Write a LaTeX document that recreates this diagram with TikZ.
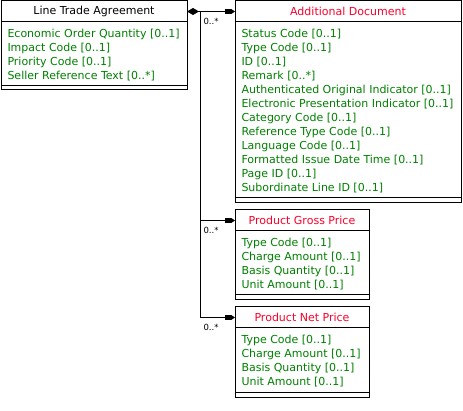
\documentclass[tikz,border=0pt]{standalone}
\usepackage{fontspec}
\setmainfont{DejaVu Sans}
\usetikzlibrary{calc,positioning,arrows.meta}
\definecolor{attrgreen}{RGB}{0,128,0}
\definecolor{titlered}{RGB}{250,0,40}

\begin{document}
\begin{tikzpicture}[x=1pt, y=1pt, line width=1pt, outer sep=0pt,
  frame/.style={draw, inner sep=0pt, anchor=north west},
  ttl/.style={draw, inner sep=0pt, minimum height=21pt, anchor=north, text=titlered, font=\fontsize{11}{14}\selectfont},
  foot/.style={draw, inner sep=0pt, minimum height=5pt, anchor=south},
  attr/.style={anchor=west, inner xsep=6.5pt, inner ysep=0pt, yshift=-1pt, align=left, text=attrgreen, font=\fontsize{11}{14}\selectfont},
  mult/.style={anchor=north west, inner sep=0pt, xshift=3.5pt, yshift=-7pt, font=\fontsize{8.5}{8.5}\selectfont},
  umlhead/.tip={Square[length=6pt,width=5pt]Triangle[length=4pt,width=5pt]},
  link/.style={-umlhead}]
\useasboundingbox (0,0) rectangle (463,-411);

% Line Trade Agreement
\node[frame, minimum width=186pt, minimum height=89pt] (lta) at (1,-1) {};
\node[ttl, minimum width=186pt, text=black] (ltaT) at (lta.north) {Line Trade Agreement};
\node[foot, minimum width=186pt, minimum height=4pt] (ltaF) at (lta.south) {};
\node[attr] (ltaA) at ($(ltaT.south west)!.5!(ltaF.north west)$) {Economic Order Quantity [0..1]\\Impact Code [0..1]\\Priority Code [0..1]\\Seller Reference Text [0..*]};

% Additional Document
\node[frame, minimum width=226pt, minimum height=202pt] (ad) at (235,-1) {};
\node[ttl, minimum width=226pt] (adT) at (ad.north) {Additional Document};
\node[foot, minimum width=226pt] (adF) at (ad.south) {};
\node[attr] (adA) at ($(adT.south west)!.5!(adF.north west)$) {Status Code [0..1]\\Type Code [0..1]\\ID [0..1]\\Remark [0..*]\\Authenticated Original Indicator [0..1]\\Electronic Presentation Indicator [0..1]\\Category Code [0..1]\\Reference Type Code [0..1]\\Language Code [0..1]\\Formatted Issue Date Time [0..1]\\Page ID [0..1]\\Subordinate Line ID [0..1]};

% Product Gross Price
\node[frame, minimum width=134pt, minimum height=90pt] (pgp) at (235,-210) {};
\node[ttl, minimum width=134pt] (pgpT) at (pgp.north) {Product Gross Price};
\node[foot, minimum width=134pt] (pgpF) at (pgp.south) {};
\node[attr] (pgpA) at ($(pgpT.south west)!.5!(pgpF.north west)$) {Type Code [0..1]\\Charge Amount [0..1]\\Basis Quantity [0..1]\\Unit Amount [0..1]};

% Product Net Price
\node[frame, minimum width=134pt, minimum height=90pt] (pnp) at (235,-307) {};
\node[ttl, minimum width=134pt] (pnpT) at (pnp.north) {Product Net Price};
\node[foot, minimum width=134pt] (pnpF) at (pnp.south) {};
\node[attr] (pnpA) at ($(pnpT.south west)!.5!(pnpF.north west)$) {Type Code [0..1]\\Charge Amount [0..1]\\Basis Quantity [0..1]\\Unit Amount [0..1]};

% connectors
\coordinate (bus) at ($(ltaT.east)+(13,0)$);
\draw[{Diamond[length=12pt,width=7pt]}-umlhead] (ltaT.east) -- (adT.west);
\draw[link] (bus) |- (pgpT.west);
\draw[link] (bus) |- (pnpT.west);
\node[mult] (mAD) at (bus) {0..*};
\node[mult] (mPGP) at (bus |- pgpT.west) {0..*};
\node[mult] (mPNP) at (bus |- pnpT.west) {0..*};
\end{tikzpicture}
\end{document}
